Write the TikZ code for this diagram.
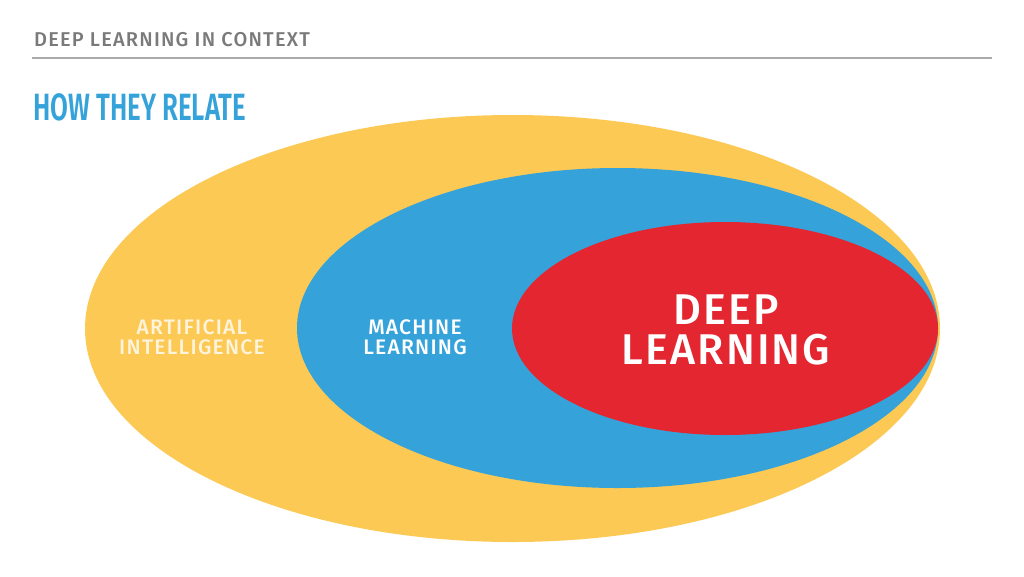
\documentclass[tikz,border=0pt]{standalone}
\usepackage{fontspec}
\setmainfont{Fira Sans}[UprightFont=* Medium]
\newfontfamily\headfont[FakeStretch=0.68]{Fira Sans SemiBold}
\usepackage{tikz}
\usetikzlibrary{shapes.geometric, positioning}
\definecolor{aiyellow}{HTML}{FCC954}
\definecolor{mlblue}{HTML}{35A3DA}
\definecolor{dlred}{HTML}{E32630}
\definecolor{titlegray}{HTML}{7A7A7A}
\definecolor{rulegray}{HTML}{AAAAAA}
\definecolor{aitext}{HTML}{FEF3DC}

\begin{document}
\begin{tikzpicture}[x=1pt, y=-1pt,
    blob/.style={ellipse, inner sep=0pt, draw=none},
    label/.style={align=center, font=\fontsize{21}{20}\selectfont\addfontfeatures{LetterSpace=6}, inner sep=0pt}]
      \useasboundingbox[fill=white] (0,0) rectangle (1024,576);

      % header
      \node[anchor=west, text=titlegray, inner sep=0pt,
            font=\fontsize{20}{20}\selectfont\addfontfeatures{LetterSpace=6}] (title) at (34,40) {DEEP LEARNING IN CONTEXT};
      \coordinate (rl) at (32,58);
      \coordinate (rr) at (992,58);
      \draw[rulegray, line width=1.2pt] (rl) -- (rr);
      \node[anchor=west, text=mlblue, inner sep=0pt,
            font=\fontsize{38}{38}\headfont] (head) at (33,107) {HOW THEY RELATE};

      % nested sets
      \node[blob, fill=aiyellow, minimum width=855pt, minimum height=427pt] (ai) at (512.5,328.5) {};
      \node[blob, fill=mlblue, minimum width=641pt, minimum height=320pt] (ml) at (617.5,328) {};
      \node[blob, fill=dlred, minimum width=426pt, minimum height=213pt] (dl) at (725,328.5) {};

      \node[label, text=aitext] (ailabel) at (192,337) {ARTIFICIAL\\INTELLIGENCE};
      \node[label, text=white] (mllabel) at (415,337) {MACHINE\\LEARNING};
      \node[label, text=white, font=\fontsize{43}{40}\selectfont\addfontfeatures{LetterSpace=5}] (dllabel) at (726,330) {DEEP\\LEARNING};
\end{tikzpicture}
\end{document}
